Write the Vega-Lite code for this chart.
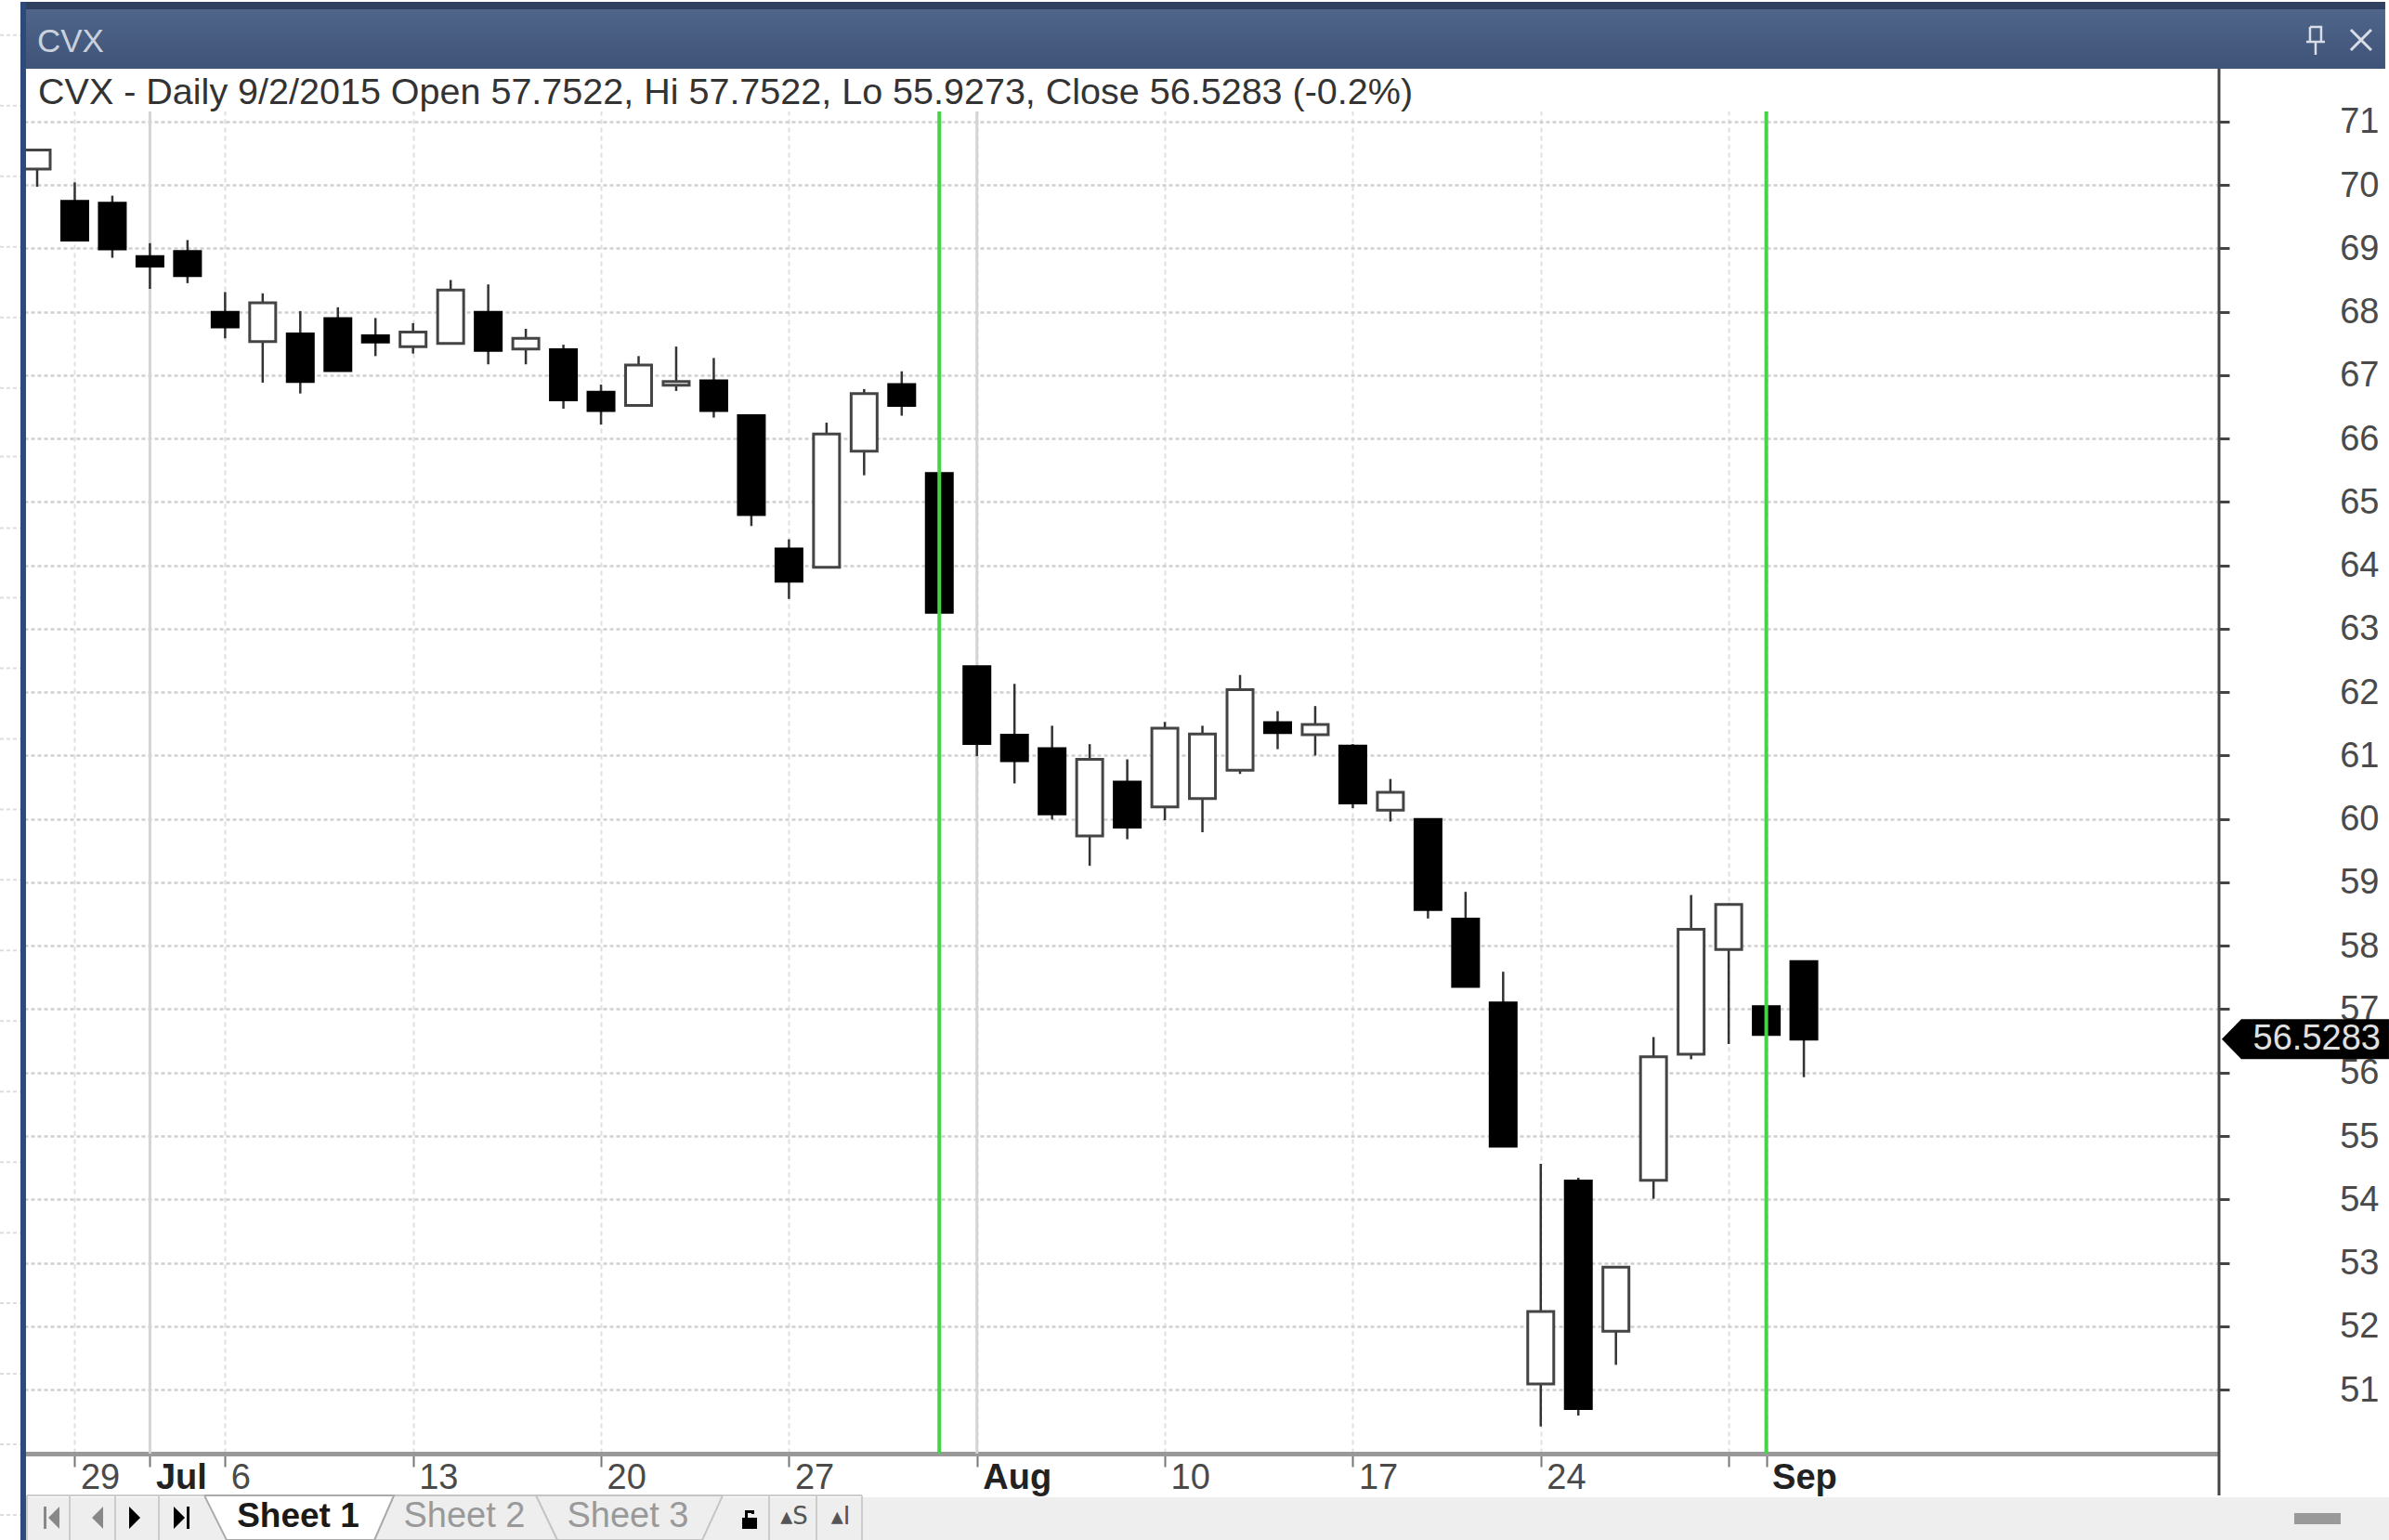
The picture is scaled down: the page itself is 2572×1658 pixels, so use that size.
{
"$schema":"https://vega.github.io/schema/vega-lite/v6.json",
"autosize":"none","width":2363,"height":1491,
"padding":{"left":26,"top":74,"right":183,"bottom":93},
"background":"#ffffff",
"config":{"view":{"stroke":null},"font":"Liberation Sans"},
"resolve":{"axis":{"x":"independent","y":"independent"}},
"datasets":{
"candles":[
{"date":"2015-06-26","i":0,"open":70.25,"high":70.55,"low":69.97,"close":70.55,"dir":"up"},
{"date":"2015-06-29","i":1,"open":69.74,"high":70.04,"low":69.13,"close":69.13,"dir":"down"},
{"date":"2015-06-30","i":2,"open":69.71,"high":69.83,"low":68.85,"close":68.99,"dir":"down"},
{"date":"2015-07-01","i":3,"open":68.87,"high":69.08,"low":68.36,"close":68.72,"dir":"down"},
{"date":"2015-07-02","i":4,"open":68.95,"high":69.13,"low":68.45,"close":68.57,"dir":"down"},
{"date":"2015-07-06","i":5,"open":67.99,"high":68.31,"low":67.58,"close":67.76,"dir":"down"},
{"date":"2015-07-07","i":6,"open":67.53,"high":68.29,"low":66.88,"close":68.14,"dir":"up"},
{"date":"2015-07-08","i":7,"open":67.65,"high":68.01,"low":66.71,"close":66.90,"dir":"down"},
{"date":"2015-07-09","i":8,"open":67.89,"high":68.07,"low":67.07,"close":67.07,"dir":"down"},
{"date":"2015-07-10","i":9,"open":67.62,"high":67.90,"low":67.30,"close":67.52,"dir":"down"},
{"date":"2015-07-13","i":10,"open":67.45,"high":67.82,"low":67.34,"close":67.68,"dir":"up"},
{"date":"2015-07-14","i":11,"open":67.50,"high":68.50,"low":67.50,"close":68.34,"dir":"up"},
{"date":"2015-07-15","i":12,"open":67.99,"high":68.43,"low":67.17,"close":67.39,"dir":"down"},
{"date":"2015-07-16","i":13,"open":67.41,"high":67.73,"low":67.17,"close":67.58,"dir":"up"},
{"date":"2015-07-17","i":14,"open":67.40,"high":67.48,"low":66.47,"close":66.61,"dir":"down"},
{"date":"2015-07-20","i":15,"open":66.73,"high":66.85,"low":66.22,"close":66.44,"dir":"down"},
{"date":"2015-07-21","i":16,"open":66.52,"high":67.30,"low":66.52,"close":67.16,"dir":"up"},
{"date":"2015-07-22","i":17,"open":66.84,"high":67.45,"low":66.75,"close":66.90,"dir":"up"},
{"date":"2015-07-23","i":18,"open":66.91,"high":67.27,"low":66.33,"close":66.44,"dir":"down"},
{"date":"2015-07-24","i":19,"open":66.36,"high":66.36,"low":64.62,"close":64.80,"dir":"down"},
{"date":"2015-07-27","i":20,"open":64.26,"high":64.41,"low":63.47,"close":63.75,"dir":"down"},
{"date":"2015-07-28","i":21,"open":63.97,"high":66.25,"low":63.97,"close":66.07,"dir":"up"},
{"date":"2015-07-29","i":22,"open":65.80,"high":66.78,"low":65.42,"close":66.71,"dir":"up"},
{"date":"2015-07-30","i":23,"open":66.85,"high":67.06,"low":66.36,"close":66.52,"dir":"down"},
{"date":"2015-07-31","i":24,"open":65.45,"high":65.45,"low":63.26,"close":63.26,"dir":"down"},
{"date":"2015-08-03","i":25,"open":62.40,"high":62.40,"low":60.99,"close":61.19,"dir":"down"},
{"date":"2015-08-04","i":26,"open":61.32,"high":62.13,"low":60.56,"close":60.92,"dir":"down"},
{"date":"2015-08-05","i":27,"open":61.11,"high":61.47,"low":59.99,"close":60.08,"dir":"down"},
{"date":"2015-08-06","i":28,"open":59.73,"high":61.18,"low":59.26,"close":60.94,"dir":"up"},
{"date":"2015-08-07","i":29,"open":60.58,"high":60.94,"low":59.68,"close":59.87,"dir":"down"},
{"date":"2015-08-10","i":30,"open":60.19,"high":61.53,"low":59.98,"close":61.43,"dir":"up"},
{"date":"2015-08-11","i":31,"open":60.32,"high":61.47,"low":59.79,"close":61.34,"dir":"up"},
{"date":"2015-08-12","i":32,"open":60.77,"high":62.27,"low":60.71,"close":62.04,"dir":"up"},
{"date":"2015-08-13","i":33,"open":61.52,"high":61.70,"low":61.10,"close":61.36,"dir":"down"},
{"date":"2015-08-14","i":34,"open":61.33,"high":61.78,"low":61.00,"close":61.49,"dir":"up"},
{"date":"2015-08-17","i":35,"open":61.15,"high":61.18,"low":60.17,"close":60.25,"dir":"down"},
{"date":"2015-08-18","i":36,"open":60.14,"high":60.63,"low":59.96,"close":60.42,"dir":"up"},
{"date":"2015-08-19","i":37,"open":59.99,"high":59.99,"low":58.43,"close":58.57,"dir":"down"},
{"date":"2015-08-20","i":38,"open":58.42,"high":58.85,"low":57.36,"close":57.36,"dir":"down"},
{"date":"2015-08-21","i":39,"open":57.10,"high":57.59,"low":54.84,"close":54.84,"dir":"down"},
{"date":"2015-08-24","i":40,"open":51.09,"high":54.56,"low":50.42,"close":52.23,"dir":"up"},
{"date":"2015-08-25","i":41,"open":54.29,"high":54.34,"low":50.59,"close":50.70,"dir":"down"},
{"date":"2015-08-26","i":42,"open":51.92,"high":52.93,"low":51.39,"close":52.93,"dir":"up"},
{"date":"2015-08-27","i":43,"open":54.30,"high":56.56,"low":54.01,"close":56.25,"dir":"up"},
{"date":"2015-08-28","i":44,"open":56.29,"high":58.80,"low":56.21,"close":58.26,"dir":"up"},
{"date":"2015-08-31","i":45,"open":57.94,"high":58.67,"low":56.45,"close":58.65,"dir":"up"},
{"date":"2015-09-01","i":46,"open":57.04,"high":57.04,"low":56.60,"close":56.60,"dir":"down"},
{"date":"2015-09-02","i":47,"open":57.7522,"high":57.7522,"low":55.9273,"close":56.5283,"dir":"down"}
],
"margin":[{"v":72.362},{"v":71.249},{"v":70.136},{"v":69.024},{"v":67.911},{"v":66.798},{"v":65.715},{"v":64.587},{"v":63.489},{"v":62.376},{"v":61.264},{"v":60.151},{"v":59.038},{"v":57.925},{"v":56.813},{"v":55.7},{"v":54.587},{"v":53.474},{"v":52.362},{"v":51.249},{"v":50.136},{"v":49.023}]
},
"data":{"name":"candles"},
"layer":[
{"data":{"values":[{}]},"mark":{"type":"rect","fill":"#ffffff"},
"encoding":{"x":{"datum":-0.346,"type":"quantitative","axis":null},"x2":{"datum":58.044},"y":{"datum":71.832,"type":"quantitative","axis":null},"y2":{"datum":71.158}}},
{"data":{"values":[{"i":3},{"i":25}]},"mark":{"type":"rule","stroke":"#d4d4d4","strokeWidth":3},
"encoding":{"x":{"field":"i","type":"quantitative","axis":null},"y":{"datum":71.158,"type":"quantitative","axis":null},"y2":{"datum":49.99}}},
{"mark":{"type":"rule","stroke":"#333333","strokeWidth":2.5},
"encoding":{
"x":{"field":"i","type":"quantitative","scale":{"domain":[-0.346,58.044],"nice":false,"zero":false,"padding":0},
"axis":{"title":null,"values":[1,3,5,10,15,20,25,30,35,40,45,46],
"labelExpr":"datum.value==1?'29':datum.value==3?'Jul':datum.value==5?'6':datum.value==10?'13':datum.value==15?'20':datum.value==20?'27':datum.value==25?'Aug':datum.value==30?'10':datum.value==35?'17':datum.value==40?'24':datum.value==46?'Sep':''",
"labelFontWeight":{"expr":"(datum.value==3||datum.value==25||datum.value==46)?'bold':'normal'"},
"labelColor":{"expr":"(datum.value==3||datum.value==25||datum.value==46)?'#222222':'#4a4a4a'"},
"labelFont":"Liberation Sans","labelFontSize":38,"labelAlign":"left","labelBaseline":"top","labelOffset":6,"labelPadding":-7,"labelOverlap":false,"labelFlush":false,"labelBound":false,
"tickSize":14,"tickColor":"#777777","tickWidth":2,"domainColor":"#999999","domainWidth":5,
"grid":true,"gridColor":"#e0e0e0","gridDash":[5,4],"gridWidth":2}},
"y":{"field":"low","type":"quantitative","scale":{"domain":[49.99,71.832],"nice":false,"zero":false,"padding":0},
"axis":{"title":null,"orient":"right","values":[51,52,53,54,55,56,57,58,59,60,61,62,63,64,65,66,67,68,69,70,71],
"labelFont":"Liberation Sans","labelFontSize":38,"labelColor":"#4a4a4a","labelAlign":"right","labelPadding":161,"labelOffset":1,"labelBound":false,"labelOverlap":false,"labelFlush":false,
"tickSize":11,"tickColor":"#444444","tickWidth":3,"domain":false,
"grid":true,"gridColor":"#cfcfcf","gridDash":[4,3],"gridWidth":2.5}},
"y2":{"field":"high"}}},
{"mark":{"type":"bar","size":28,"strokeWidth":3},
"encoding":{"x":{"field":"i","type":"quantitative","axis":null},"y":{"field":"open","type":"quantitative","axis":null},"y2":{"field":"close"},
"fill":{"field":"dir","type":"nominal","scale":{"domain":["up","down"],"range":["#ffffff","#000000"]},"legend":null},
"stroke":{"field":"dir","type":"nominal","scale":{"domain":["up","down"],"range":["#444444","#000000"]},"legend":null}}},
{"data":{"values":[{"date":"2015-07-31","i":24},{"date":"2015-09-01","i":46}]},"mark":{"type":"rule","stroke":"#45d445","strokeWidth":4},
"encoding":{"x":{"field":"i","type":"quantitative","axis":null},"y":{"datum":71.158,"type":"quantitative","axis":null},"y2":{"datum":49.99}}},
{"data":{"values":[{}]},"mark":{"type":"rule","stroke":"#444444","strokeWidth":3},
"encoding":{"x":{"datum":58.044,"type":"quantitative","axis":null},"y":{"datum":71.832,"type":"quantitative","axis":null},"y2":{"datum":49.33}}},
{"data":{"name":"margin"},"mark":{"type":"rule","stroke":"#dddddd","strokeWidth":2,"strokeDash":[4,3]},
"encoding":{"x":{"datum":-0.988,"type":"quantitative","axis":null},"x2":{"datum":-0.445},"y":{"field":"v","type":"quantitative","axis":null}}},
{"data":{"values":[{}]},"mark":{"type":"rect","fill":"#eeeeee"},
"encoding":{"x":{"datum":-0.346,"type":"quantitative","axis":null},"x2":{"datum":62.565},"y":{"datum":49.3,"type":"quantitative","axis":null},"y2":{"datum":48.626}}},
{"data":{"values":[{}]},"mark":{"type":"rect","fill":{"gradient":"linear","x1":0,"y1":0,"x2":0,"y2":1,"stops":[{"offset":0,"color":"#50658a"},{"offset":1,"color":"#3f5379"}]}},
"encoding":{"x":{"datum":-0.346,"type":"quantitative","axis":null},"x2":{"datum":62.466},"y":{"datum":72.769,"type":"quantitative","axis":null},"y2":{"datum":71.832}}},
{"data":{"values":[{}]},"mark":{"type":"rect","fill":"#2f4060"},
"encoding":{"x":{"datum":-0.445,"type":"quantitative","axis":null},"x2":{"datum":62.466},"y":{"datum":72.887,"type":"quantitative","axis":null},"y2":{"datum":72.769}}},
{"data":{"values":[{}]},"mark":{"type":"rect","fill":"#2e4a7a"},
"encoding":{"x":{"datum":-0.445,"type":"quantitative","axis":null},"x2":{"datum":-0.297},"y":{"datum":72.887,"type":"quantitative","axis":null},"y2":{"datum":48.626}}},
{"data":{"values":[{}]},"mark":{"type":"rect","fill":"#999999"},
"encoding":{"x":{"datum":60.045,"type":"quantitative","axis":null},"x2":{"datum":61.28},"y":{"datum":49.052,"type":"quantitative","axis":null},"y2":{"datum":48.876}}},
{"data":{"values":[{"label":"CVX"}]},"mark":{"type":"text","align":"left","baseline":"middle","fontSize":35,"font":"Liberation Sans","fill":"#c9d1dd"},
"encoding":{"x":{"datum":0,"type":"quantitative","axis":null},"y":{"datum":72.257,"type":"quantitative","axis":null},"text":{"field":"label"}}},
{"data":{"values":[{"label":"CVX - Daily 9/2/2015 Open 57.7522, Hi 57.7522, Lo 55.9273, Close 56.5283 (-0.2%)"}]},"mark":{"type":"text","align":"left","baseline":"middle","fontSize":39.5,"font":"Liberation Sans","fill":"#333333"},
"encoding":{"x":{"datum":0.025,"type":"quantitative","axis":null},"y":{"datum":71.458,"type":"quantitative","axis":null},"text":{"field":"label"}}},
{"data":{"values":[{}]},"mark":{"type":"point","filled":false,"size":4,"opacity":1,"stroke":"#d8dde6","strokeWidth":3,"shape":"M-11,-11L11,11M11,-11L-11,11"},
"encoding":{"x":{"datum":61.823,"type":"quantitative","axis":null},"y":{"datum":72.286,"type":"quantitative","axis":null}}},
{"data":{"values":[{}]},"mark":{"type":"point","filled":false,"size":4,"opacity":1,"stroke":"#d8dde6","strokeWidth":2.5,"shape":"M-6,-14H6V2M-6,-14V2M-10,2H10M0,2V16"},
"encoding":{"x":{"datum":60.613,"type":"quantitative","axis":null},"y":{"datum":72.286,"type":"quantitative","axis":null}}},
{"data":{"values":[{"price":56.5283}]},"mark":{"type":"point","filled":true,"size":4,"opacity":1,"fill":"#000000","shape":"M-90,0L-69,-21.5L90,-21.5L90,21.5L-69,21.5Z"},
"encoding":{"x":{"datum":60.341,"type":"quantitative","axis":null},"y":{"field":"price","type":"quantitative","axis":null}}},
{"data":{"values":[{"price":56.5283,"label":"56.5283"}]},"mark":{"type":"text","align":"right","baseline":"middle","fontSize":38,"font":"Liberation Sans","fill":"#e0e0e0"},
"encoding":{"x":{"datum":62.342,"type":"quantitative","axis":null},"y":{"field":"price","type":"quantitative","axis":null},"text":{"field":"label"}}},
{"data":{"values":[{}]},"mark":{"type":"point","filled":true,"size":4,"opacity":1,"fill":"#eeeeee","stroke":"#c4c4c4","strokeWidth":2,"shape":"M177,-24L378,-24L356,24L200,24Z"},
"encoding":{"x":{"datum":8.896,"type":"quantitative","axis":null},"y":{"datum":48.978,"type":"quantitative","axis":null}}},
{"data":{"values":[{}]},"mark":{"type":"point","filled":true,"size":4,"opacity":1,"fill":"#eeeeee","stroke":"#c4c4c4","strokeWidth":2,"shape":"M24,-24L177,-24L200,24L3,24Z"},
"encoding":{"x":{"datum":8.896,"type":"quantitative","axis":null},"y":{"datum":48.978,"type":"quantitative","axis":null}}},
{"data":{"values":[{}]},"mark":{"type":"point","filled":true,"size":4,"opacity":1,"fill":"#ffffff","stroke":"#aaaaaa","strokeWidth":2,"shape":"M-180,-24L24,-24L3,24L-156,24Z"},
"encoding":{"x":{"datum":8.896,"type":"quantitative","axis":null},"y":{"datum":48.978,"type":"quantitative","axis":null}}},
{"data":{"values":[{}]},"mark":{"type":"point","filled":false,"size":4,"opacity":1,"stroke":"#cccccc","strokeWidth":2,"shape":"M-371,-24H-180M378,-24H528M-371,-24V24M-325,-24V24M-276,-24V24M-229,-24V24M428,-24V24M479,-24V24M528,-24V24"},
"encoding":{"x":{"datum":8.896,"type":"quantitative","axis":null},"y":{"datum":48.978,"type":"quantitative","axis":null}}},
{"data":{"values":[{}]},"mark":{"type":"point","filled":true,"size":4,"opacity":1,"fill":"#888888","shape":"M-336,-12L-348,0L-336,12ZM-353,-12H-350V12H-353ZM-289,-12L-301,0L-289,12Z"},
"encoding":{"x":{"datum":8.896,"type":"quantitative","axis":null},"y":{"datum":48.978,"type":"quantitative","axis":null}}},
{"data":{"values":[{}]},"mark":{"type":"point","filled":true,"size":4,"opacity":1,"fill":"#000000","shape":"M-261,-12L-249,0L-261,12ZM-213,-12L-201,0L-213,12ZM-199,-12H-196V12H-199ZM399,0H415V12H399ZM402,0V-8H412V-4H409V-5H405V0Z"},
"encoding":{"x":{"datum":8.896,"type":"quantitative","axis":null},"y":{"datum":48.978,"type":"quantitative","axis":null}}},
{"data":{"values":[{"label":"Sheet 1"}]},"mark":{"type":"text","align":"center","baseline":"middle","fontSize":37,"fontWeight":"bold","font":"Liberation Sans","fill":"#1a1a1a"},
"encoding":{"x":{"datum":6.943,"type":"quantitative","axis":null},"y":{"datum":48.993,"type":"quantitative","axis":null},"text":{"field":"label"}}},
{"data":{"values":[{"label":"Sheet 2"}]},"mark":{"type":"text","align":"center","baseline":"middle","fontSize":38,"font":"Liberation Sans","fill":"#999999"},
"encoding":{"x":{"datum":11.366,"type":"quantitative","axis":null},"y":{"datum":48.993,"type":"quantitative","axis":null},"text":{"field":"label"}}},
{"data":{"values":[{"label":"Sheet 3"}]},"mark":{"type":"text","align":"center","baseline":"middle","fontSize":38,"font":"Liberation Sans","fill":"#999999"},
"encoding":{"x":{"datum":15.715,"type":"quantitative","axis":null},"y":{"datum":48.993,"type":"quantitative","axis":null},"text":{"field":"label"}}},
{"data":{"values":[{"label":"▴S"}]},"mark":{"type":"text","align":"center","baseline":"middle","fontSize":26,"font":"DejaVu Sans","fill":"#555555"},
"encoding":{"x":{"datum":20.138,"type":"quantitative","axis":null},"y":{"datum":48.993,"type":"quantitative","axis":null},"text":{"field":"label"}}},
{"data":{"values":[{"label":"▴I"}]},"mark":{"type":"text","align":"center","baseline":"middle","fontSize":26,"font":"DejaVu Sans","fill":"#555555"},
"encoding":{"x":{"datum":21.374,"type":"quantitative","axis":null},"y":{"datum":48.993,"type":"quantitative","axis":null},"text":{"field":"label"}}}
]
}
